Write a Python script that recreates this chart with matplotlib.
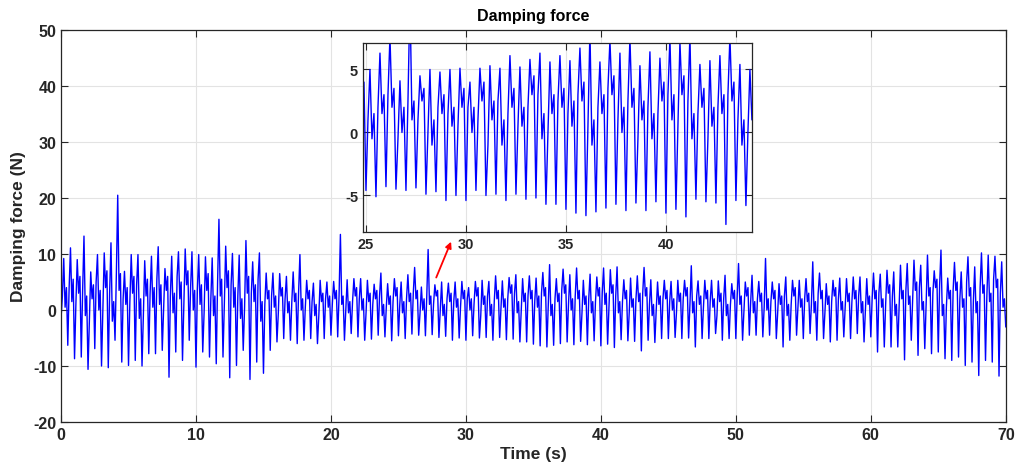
import matplotlib.pyplot as plt
import numpy as np

plt.rcParams['font.family'] = ['Liberation Sans', 'DejaVu Sans']
plt.rcParams['font.weight'] = 'bold'
plt.rcParams['axes.unicode_minus'] = False

# one oscillation cycle every 0.5 s:
# trough -> kink on the rise -> peak -> notch on the fall -> small rebound
cycle_period = 0.5
troughs = [
    -1.5, -6.3, -8.7, -8.4, -10.6, -6.9, -10.0, -10.3, -5.4, -9.3,
    -9.9, -9.0, -10.0, -7.8, -7.8, -7.2, -12.0, -7.5, -9.0, -5.4,
    -10.2, -7.5, -8.4, -9.6, -8.4, -12.1, -9.9, -7.2, -12.4, -9.3,
    -11.3, -7.2, -5.7, -5.1, -5.4, -6.0, -5.4, -5.1, -6.0, -5.1,
    -4.5, -4.8, -5.4, -4.2, -4.8, -5.4, -5.2, -4.5, -4.8, -5.5,
    -4.6, -5.1, -4.3, -4.5, -4.6, -4.4, -4.9, -4.7, -5.4, -5.0,
    -5.4, -4.6, -5.0, -4.9, -5.4, -4.9, -5.3, -5.2, -5.7, -5.7,
    -6.1, -6.4, -6.6, -6.3, -6.0, -5.7, -6.2, -5.6, -6.2, -5.5,
    -6.4, -6.1, -6.7, -5.3, -5.5, -5.6, -7.3, -5.4, -5.8, -5.1,
    -5.1, -4.9, -5.1, -5.0, -6.6, -5.1, -5.1, -4.2, -5.4, -5.1,
    -5.1, -5.4, -4.5, -4.5, -4.8, -4.5, -5.1, -6.6, -5.4, -4.5,
    -5.1, -4.2, -5.4, -5.1, -5.7, -5.4, -4.8, -5.1, -4.2, -5.7,
    -4.8, -7.5, -6.6, -6.6, -6.6, -8.9, -5.4, -8.1, -6.9, -7.8,
    -7.5, -8.7, -9.0, -8.4, -9.9, -9.3, -11.7, -9.0, -9.3, -11.8,
]
kinks = [
    2.5, 4.0, 1.0, 3.5, -2.0, 5.0, 0.5, 3.0, 6.5, 2.0,
    1.5, 4.5, -1.0, 3.0, 5.5, 0.0, 2.5, 6.0, 1.0, 4.0,
    3.5, -0.5, 2.0, 5.0, 1.0, 4.5, 2.5, 0.5, 3.0, 5.5,
    1.0, 2.5, -0.5, 2.0, 1.5, 3.0, 0.5, 1.5, -1.0, 2.0,
    1.0, 2.5, 0.0, 1.5, 2.0, -0.5, 1.0, 2.5, 0.5, 1.5,
    1.0, 2.0, 3.0, -0.5, 2.5, 1.0, 0.0, 2.0, 1.5, 0.5,
    2.0, 1.0, -1.0, 2.5, 1.5, 0.5, 2.0, 3.0, 0.0, 2.5,
    1.5, 3.0, 0.5, 2.0, 3.5, 1.0, 2.5, -0.5, 2.0, 1.5,
    3.0, 0.5, 2.5, 1.5, -0.5, 2.0, 3.0, 1.0, 0.0, 2.0,
    1.5, -0.5, 2.0, 1.0, 2.5, 0.5, 1.5, -1.0, 2.0, 1.0,
    2.5, 0.0, 1.5, 2.0, 0.5, 1.5, -0.5, 2.5, 1.0, 0.5,
    2.0, 1.0, 3.0, -0.5, 1.5, 2.0, 0.5, 1.5, 2.5, 0.0,
    2.0, 3.0, 1.0, 2.5, 0.5, 3.5, 2.0, 4.0, 1.0, 3.0,
    4.5, 0.5, 3.5, 2.0, 5.0, 1.5, 4.0, 2.5, 5.5, 3.0,
]
peaks = [
    9.2, 11.1, 9.0, 13.2, 6.8, 9.9, 10.2, 12.0, 20.5, 6.9,
    9.9, 9.9, 8.8, 9.6, 11.3, 7.4, 9.6, 10.4, 10.9, 10.4,
    9.9, 9.5, 9.3, 16.2, 11.4, 10.1, 9.8, 12.4, 8.6, 10.2,
    6.6, 6.6, 6.5, 6.0, 6.8, 9.9, 5.3, 4.8, 5.3, 5.0,
    5.1, 13.5, 5.4, 5.6, 5.6, 5.3, 4.6, 6.6, 4.7, 5.6,
    5.0, 6.3, 7.6, 4.1, 10.8, 4.5, 5.0, 4.8, 5.0, 5.1,
    4.0, 5.1, 5.3, 5.1, 6.1, 5.2, 5.8, 6.3, 5.6, 6.1,
    5.7, 6.7, 8.1, 5.6, 7.3, 6.3, 7.5, 5.3, 6.4, 5.9,
    7.5, 7.2, 7.7, 5.4, 5.7, 6.1, 7.6, 5.4, 5.0, 5.3,
    5.1, 5.3, 5.3, 7.9, 5.2, 5.3, 5.3, 5.2, 6.2, 4.7,
    8.3, 5.0, 6.2, 5.1, 9.2, 5.0, 4.7, 5.9, 5.3, 5.3,
    5.6, 8.6, 6.6, 4.7, 5.3, 5.7, 5.6, 5.9, 5.9, 5.6,
    6.6, 6.4, 7.1, 6.8, 8.0, 8.3, 8.9, 8.0, 9.8, 7.0,
    10.7, 5.7, 8.5, 6.8, 9.5, 7.7, 10.2, 9.8, 9.6, 8.6,
]
notches = [
    0.5, 1.5, 3.0, -1.0, 2.0, 0.0, 4.0, -2.0, 3.5, 1.0,
    3.0, -1.5, 2.5, 0.5, 1.0, 3.5, -0.5, 2.0, 4.5, 0.0,
    1.0, 3.5, -1.0, 2.5, 4.0, 0.5, -1.5, 3.0, 1.5, -2.0,
    2.0, 0.5, 2.5, -0.5, 1.5, 0.0, 2.0, -1.0, 1.5, 0.5,
    2.0, 1.0, -0.5, 2.5, 0.0, 1.5, 2.0, -1.0, 1.0, 2.5,
    -0.5, 1.5, 2.0, 0.0, 1.0, 2.5, -1.0, 1.5, 0.5, 2.0,
    0.0, 2.5, 1.0, -1.0, 2.0, 0.5, 3.0, -0.5, 1.5, 2.0,
    0.5, 2.5, -1.0, 1.5, 3.0, 0.0, 2.0, 1.0, -0.5, 2.5,
    1.0, 3.0, -0.5, 2.0, 0.5, 1.5, 2.5, -1.0, 1.0, 2.0,
    0.0, 1.5, 2.5, -0.5, 1.0, 2.0, 0.5, 1.5, -1.0, 2.0,
    1.0, 2.5, -0.5, 1.5, 0.0, 2.0, 1.0, -1.0, 2.5, 0.5,
    1.5, -0.5, 2.0, 1.0, 2.5, 0.0, 1.5, 2.0, -0.5, 1.0,
    2.0, 0.5, 3.0, -1.0, 2.0, 1.0, 3.5, 0.0, 2.5, 4.0,
    -1.0, 2.0, 3.5, 0.5, 2.5, -0.5, 3.0, 1.5, 4.0, 0.5,
]
rebounds = [
    4.0, 5.5, 6.0, 2.5, 4.5, 3.5, 7.0, 1.5, 6.5, 4.0,
    6.0, 2.0, 5.5, 4.0, 4.5, 6.0, 3.0, 5.0, 7.0, 3.5,
    4.5, 6.5, 2.5, 5.5, 7.0, 4.0, 2.0, 6.0, 4.5, 1.5,
    3.5, 2.5, 4.0, 1.5, 3.0, 2.0, 3.5, 1.0, 3.0, 2.5,
    3.5, 2.5, 1.5, 4.0, 2.0, 3.0, 3.5, 1.0, 2.5, 4.0,
    1.5, 3.0, 3.5, 2.0, 2.5, 3.5, 1.0, 3.0, 2.0, 3.5,
    2.0, 4.0, 2.5, 1.0, 3.5, 2.0, 4.5, 1.5, 3.0, 3.5,
    2.5, 4.0, 1.0, 3.0, 4.5, 2.0, 3.5, 2.5, 1.5, 4.0,
    3.0, 4.5, 1.5, 3.5, 2.0, 3.0, 4.0, 1.0, 2.5, 3.5,
    2.0, 3.0, 4.0, 1.5, 2.5, 3.5, 2.0, 3.0, 1.0, 3.5,
    2.5, 4.0, 1.5, 3.0, 2.0, 3.5, 2.5, 1.0, 4.0, 2.0,
    3.0, 1.5, 3.5, 2.5, 4.0, 1.5, 3.0, 3.5, 1.5, 2.5,
    3.5, 2.0, 4.5, 1.0, 3.5, 2.5, 5.0, 1.5, 4.0, 5.5,
    1.0, 3.5, 5.0, 2.0, 4.0, 1.5, 4.5, 3.0, 5.5, 2.0,
]
final_value = -3.0

force = np.column_stack([troughs, kinks, peaks, notches, rebounds]).ravel()
force = np.append(force, final_value)
time = np.arange(len(force)) * cycle_period / 5

text_color = '#262626'
grid_color = '#e3e3e3'


def style_axes(ax, size):
    ax.grid(True, color=grid_color, linewidth=0.8)
    ax.set_axisbelow(True)
    ax.tick_params(direction='in', top=True, right=True, length=5, width=0.8,
                   colors=text_color, labelsize=size, labelcolor=text_color)
    for spine in ax.spines.values():
        spine.set_color(text_color)
        spine.set_linewidth(0.9)
    for lbl in ax.get_xticklabels() + ax.get_yticklabels():
        lbl.set_fontweight('bold')


fig = plt.figure(figsize=(10.19, 4.77), dpi=100)
ax = fig.add_axes([0.0599, 0.1132, 0.9271, 0.8218])
ax.plot(time, force, color='#0000ff', linewidth=1.0)
ax.set_xlim(0, 70)
ax.set_ylim(-20, 50)
ax.set_xticks(np.arange(0, 71, 10))
ax.set_yticks(np.arange(-20, 51, 10))
style_axes(ax, 11.5)
ax.set_xlabel('Time (s)', fontsize=12.5, fontweight='bold', color=text_color, labelpad=3)
ax.set_ylabel('Damping force (N)', fontsize=12.5, fontweight='bold', color=text_color, labelpad=5)
ax.set_title('Damping force', fontsize=11.5, fontweight='bold', color='black', pad=7)

ax.annotate('', xy=(28.9, 12.2), xytext=(27.8, 5.8),
            arrowprops=dict(arrowstyle='-|>', color='red', lw=1.3,
                            mutation_scale=9, shrinkA=0, shrinkB=0))

# zoomed view of the middle section
inset = fig.add_axes([0.3562, 0.5115, 0.3817, 0.3962])
mask = (time >= 24) & (time <= 45)
inset.plot(time[mask], force[mask], color='#0000ff', linewidth=1.0)
inset.set_xlim(24.85, 44.3)
inset.set_ylim(-7.9, 7.1)
inset.set_xticks([25, 30, 35, 40])
inset.set_yticks([-5, 0, 5])
style_axes(inset, 10.5)

fig.savefig('out.png', dpi=100)
